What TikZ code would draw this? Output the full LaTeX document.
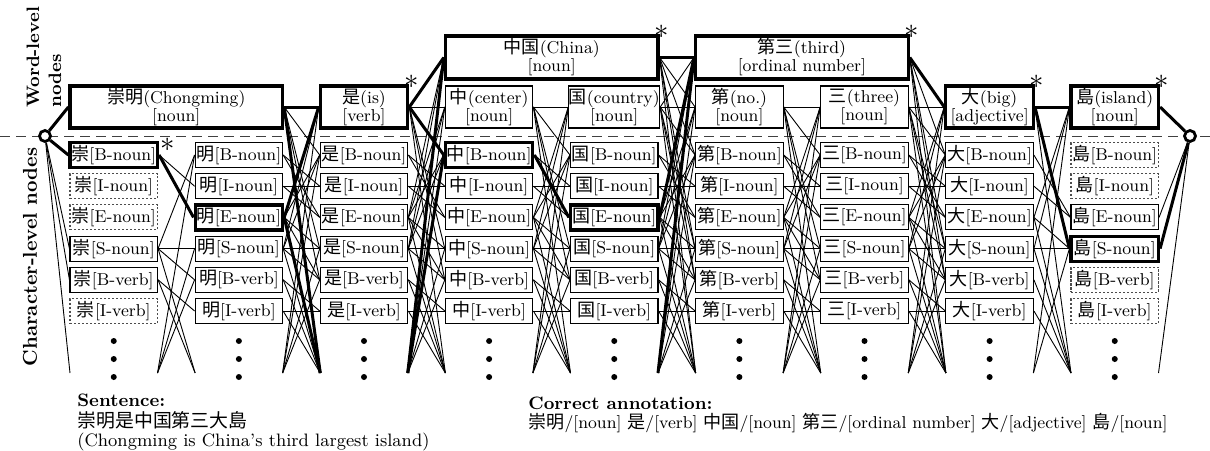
\documentclass[tikz,border=0pt]{standalone}
\usepackage{fontspec}
\newfontfamily\cjk[Scale=1.05]{Noto Sans CJK JP}
\newcommand\latgap[4]{%
  \foreach \src in {n-#1-1,n-#1-2}{\foreach \tgt in {n-#2-2,n-#2-3}{\draw[edge] (\src.east) -- (\tgt.west);}}%
  \foreach \src in {n-#1-5,n-#1-6}{\draw[edge] (\src.east) -- (n-#2-6.west); \draw[edge] (\src.east) -- (hl#2);}%
  \foreach \src in {n-#1-3.east,n-#1-4.east#3}{\foreach \tgt in {n-#2-1.west,n-#2-4.west,n-#2-5.west,hl#2#4}{\draw[edge] (\src) -- (\tgt);}}%
  \foreach \tgt in {n-#2-1.west,n-#2-4.west,n-#2-5.west#4}{\draw[edge] (hr#1) -- (\tgt);}%
}
\begin{document}
\begin{tikzpicture}[x=0.5pt,y=-0.5pt,
  lbl/.style={font=\fontsize{8.6}{9}\selectfont, inner sep=0pt, align=center},
  cbox/.style={lbl, draw, line width=0.55pt, minimum width=43.75pt, minimum height=12.5pt},
  tbox/.style={cbox, line width=1.6pt},
  dbox/.style={cbox, draw=black!70, dash pattern=on 1.2pt off 0.8pt},
  wbox/.style={lbl, draw, line width=0.55pt, minimum width=43.75pt, minimum height=21pt},
  wtbox/.style={wbox, line width=1.6pt},
  edge/.style={line width=0.45pt},
  tedge/.style={line width=1.5pt},
  term/.style={circle, draw, line width=1.4pt, fill=white, minimum size=5.5pt, inner sep=0pt},
  starmark/.style={inner sep=0pt, font=\Large},
  txt/.style={anchor=west, inner sep=0pt, font=\fontsize{9}{10}\selectfont},
  side/.style={rotate=90, inner sep=0pt, font=\bfseries\fontsize{9.5}{11}\selectfont}
]
\useasboundingbox (0,0) rectangle (1210,450);

% separator
\draw[black!75, line width=0.5pt, dash pattern=on 5pt off 3pt] (0,136) -- (1210,136);

% side labels
\node[side, anchor=west, align=left, font=\bfseries\fontsize{9}{11}\selectfont] (wl) at (44,108) {Word-level\\nodes};
\node[side, font=\bfseries\fontsize{10}{11}\selectfont] (cl) at (30,257) {Character-level nodes};

% terminals
\node[term] (st) at (45,136) {};
\node[term] (en) at (1190,136) {};

% character-level nodes
\foreach \cc/\chr/\ya/\yb/\yc/\yd/\ye/\yf in {
  1/崇/tbox/dbox/dbox/cbox/cbox/dbox,
  2/明/cbox/cbox/tbox/cbox/cbox/cbox,
  3/是/cbox/cbox/cbox/cbox/cbox/cbox,
  4/中/tbox/cbox/cbox/cbox/cbox/cbox,
  5/国/cbox/cbox/tbox/cbox/cbox/cbox,
  6/第/cbox/cbox/cbox/cbox/cbox/cbox,
  7/三/cbox/cbox/cbox/cbox/cbox/cbox,
  8/大/cbox/cbox/cbox/cbox/cbox/cbox,
  9/島/dbox/dbox/cbox/tbox/dbox/dbox}{
  \pgfmathsetmacro\xl{70+125.125*(\cc-1)}
  \pgfmathsetmacro\xc{\xl+43.75}
  \pgfmathsetmacro\xr{\xl+87.5}
  \node[\ya] (n-\cc-1) at (\xc,155)   {{\cjk\chr}[B-noun]};
  \node[\yb] (n-\cc-2) at (\xc,186.2) {{\cjk\chr}[I-noun]};
  \node[\yc] (n-\cc-3) at (\xc,217.4) {{\cjk\chr}[E-noun]};
  \node[\yd] (n-\cc-4) at (\xc,248.6) {{\cjk\chr}[S-noun]};
  \node[\ye] (n-\cc-5) at (\xc,279.8) {{\cjk\chr}[B-verb]};
  \node[\yf] (n-\cc-6) at (\xc,311)   {{\cjk\chr}[I-verb]};
  \coordinate (hl\cc) at (\xl,373);
  \coordinate (hr\cc) at (\xr,373);
  \fill (\xc,341) circle (1.5pt);
  \fill (\xc,359) circle (1.5pt);
  \fill (\xc,377) circle (1.5pt);
}

% word-level nodes
\node[wtbox, minimum width=106.3pt] (wCM) at (176.3,107) {{\cjk 崇明}(Chongming)\\ {[noun]}};
\node[wtbox] (wS) at (364,107) {{\cjk 是}(is)\\ {[verb]}};
\node[wtbox, minimum width=106.3pt, minimum height=21.5pt] (wZG) at (551.7,57.5) {{\cjk 中国}(China)\\ {[noun]}};
\node[wbox] (wZ) at (489.15,107) {{\cjk 中}(center)\\ {[noun]}};
\node[wbox] (wG) at (614.25,107) {{\cjk 国}(country)\\ {[noun]}};
\node[wtbox, minimum width=106.3pt, minimum height=21.5pt] (wDS) at (801.9,57.5) {{\cjk 第三}(third)\\ {[ordinal number]}};
\node[wbox] (wD) at (739.4,107) {{\cjk 第}(no.)\\ {[noun]}};
\node[wbox] (wSan) at (864.5,107) {{\cjk 三}(three)\\ {[noun]}};
\node[wtbox] (wDa) at (989.6,107) {{\cjk 大}(big)\\ {[adjective]}};
\node[wtbox] (wDao) at (1114.75,107) {{\cjk 島}(island)\\ {[noun]}};

% stars
\node[starmark] (s1) at (168,145) {$\ast$};
\node[starmark] (s2) at (412,82) {$\ast$};
\node[starmark] (s3) at (662,32) {$\ast$};
\node[starmark] (s4) at (912,32) {$\ast$};
\node[starmark] (s5) at (1037,82) {$\ast$};
\node[starmark] (s6) at (1162,82) {$\ast$};

% thin lattice edges
\foreach \tgt in {n-1-4.west,n-1-5.west,hl1} \draw[edge] (st) -- (\tgt);
\draw[edge] (n-1-1.east) -- (n-2-2.west);
\draw[edge] (n-1-5.east) -- (n-2-6.west);
\draw[edge] (n-1-5.east) -- (hl2);
\foreach \tgt in {n-2-1.west,n-2-4.west,n-2-5.west,hl2} \draw[edge] (n-1-4.east) -- (\tgt);
\foreach \tgt in {n-2-1.west,n-2-4.west,n-2-5.west} \draw[edge] (hr1) -- (\tgt);
\latgap{2}{3}{,wCM.east}{,wS.west}
\latgap{3}{4}{,wS.east}{,wZG.west,wZ.west}
\latgap{4}{5}{,wZ.east}{,wG.west}
\latgap{5}{6}{,wZG.east,wG.east}{,wDS.west,wD.west}
\latgap{6}{7}{,wD.east}{,wSan.west}
\latgap{7}{8}{,wDS.east,wSan.east}{,wDa.west}
\foreach \src in {n-8-1,n-8-2} \draw[edge] (\src.east) -- (n-9-3.west);
\foreach \src in {n-8-5,n-8-6} \draw[edge] (\src.east) -- (hl9);
\foreach \src in {n-8-3.east,n-8-4.east,wDa.east}{\foreach \tgt in {n-9-4.west,hl9,wDao.west}{\draw[edge] (\src) -- (\tgt);}}
\foreach \tgt in {n-9-4.west,wDao.west} \draw[edge] (hr8) -- (\tgt);
\foreach \src in {n-9-3.east,hr9} \draw[edge] (\src) -- (en);

% thick (correct) edges
\draw[tedge] (st) -- (wCM.west);
\draw[tedge] (st) -- (n-1-1.west);
\draw[tedge] (n-1-1.east) -- (n-2-3.west);
\foreach \src in {wCM.east,n-2-3.east}{\foreach \tgt in {wS.west,hl3}{\draw[tedge] (\src) -- (\tgt);}}
\foreach \src in {wS.east,hr3}{\foreach \tgt in {wZG.west,n-4-1.west}{\draw[tedge] (\src) -- (\tgt);}}
\draw[tedge] (n-4-1.east) -- (n-5-3.west);
\foreach \src in {wZG.east,n-5-3.east,hr5} \draw[tedge] (\src) -- (wDS.west);
\draw[tedge] (wDS.east) -- (wDa.west);
\draw[tedge] (wDa.east) -- (wDao.west);
\draw[tedge] (wDa.east) -- (n-9-4.west);
\draw[tedge] (wDao.east) -- (en);
\draw[tedge] (n-9-4.east) -- (en);

% bottom texts
\node[txt, font=\bfseries\fontsize{9}{10}\selectfont] (sent) at (77,400) {Sentence:};
\node[txt] (sentc) at (77,420) {\cjk 崇明是中国第三大島};
\node[txt] (sente) at (77,442) {(Chongming is China’s third largest island)};
\node[txt, font=\bfseries\fontsize{9}{10}\selectfont] (ann) at (528,403) {Correct annotation:};
\node[txt, font=\fontsize{8.6}{10}\selectfont] (annl) at (528,423) {{\cjk 崇明}/[noun] {\cjk 是}/[verb] {\cjk 中国}/[noun] {\cjk 第三}/[ordinal number] {\cjk 大}/[adjective] {\cjk 島}/[noun]};
\end{tikzpicture}
\end{document}
